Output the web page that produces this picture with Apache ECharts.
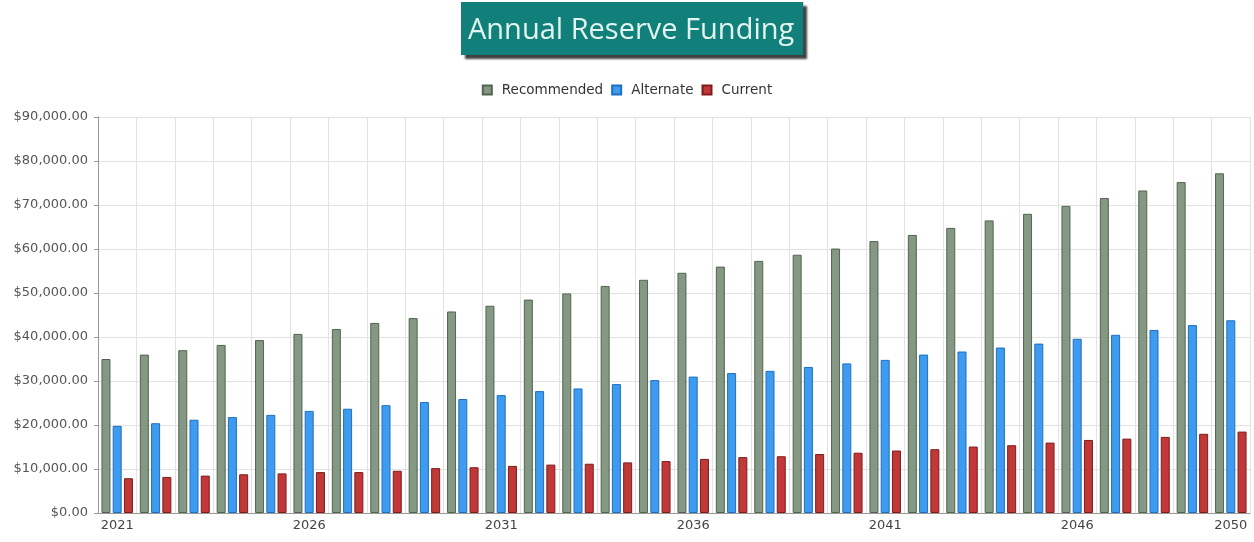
<!DOCTYPE html>
<html>
<head>
<meta charset="utf-8">
<script src="https://cdn.jsdelivr.net/npm/echarts@6/dist/echarts.min.js"></script>
<style>
html, body { margin: 0; padding: 0; background: #fff; }
#chart { width: 1254px; height: 542px; }
</style>
</head>
<body>
<div id="chart"></div>
<script>
var years = ['2021', '2022', '2023', '2024', '2025', '2026', '2027', '2028', '2029', '2030',
    '2031', '2032', '2033', '2034', '2035', '2036', '2037', '2038', '2039', '2040',
    '2041', '2042', '2043', '2044', '2045', '2046', '2047', '2048', '2049', '2050'];
var recommended = [35000, 36000, 37000, 38200, 39300, 40700, 41800, 43200, 44300, 45800,
    47100, 48500, 49900, 51600, 53000, 54600, 56000, 57300, 58700, 60100,
    61800, 63200, 64800, 66500, 68000, 69800, 71600, 73300, 75200, 77200];
var alternate = [19800, 20400, 21200, 21800, 22300, 23200, 23700, 24500, 25200, 25900,
    26800, 27700, 28300, 29300, 30200, 31000, 31800, 32300, 33200, 34000,
    34800, 36000, 36700, 37600, 38500, 39600, 40500, 41600, 42700, 43800];
var current = [7900, 8200, 8500, 8800, 9000, 9300, 9300, 9600, 10200, 10400,
    10700, 11000, 11200, 11500, 11800, 12300, 12700, 12900, 13400, 13700,
    14200, 14500, 15100, 15400, 16000, 16600, 16900, 17300, 18000, 18500];

function money(v) {
    var parts = v.toFixed(2).split('.');
    var reg = /\d{1,3}(?=(\d{3})+$)/g;
    return '$' + parts[0].replace(reg, '$&,') + '.' + parts[1];
}

function barSeries(name, data, fill, border) {
    return {
        name: name,
        type: 'bar',
        data: data,
        barWidth: 9,
        barGap: '25%',
        barCategoryGap: '22%',
        itemStyle: {
            color: fill,
            borderColor: border,
            borderWidth: 1
        }
    };
}

var myChart = echarts.init(document.getElementById('chart'));
myChart.setOption({
    animation: false,
    title: {
        text: 'Annual Reserve Funding',
        left: 461,
        top: 2,
        padding: [14, 9, 10, 7],
        backgroundColor: '#11807a',
        shadowColor: 'rgba(0,0,0,0.75)',
        shadowBlur: 2,
        shadowOffsetX: 4,
        shadowOffsetY: 4,
        textStyle: {
            color: '#e2f4f0',
            fontFamily: 'Open Sans',
            fontWeight: 'normal',
            fontSize: 29
        }
    },
    legend: {
        top: 78,
        left: 'center',
        icon: 'rect',
        itemWidth: 9,
        itemHeight: 9,
        itemGap: 8,
        textStyle: {
            color: '#333',
            fontFamily: 'DejaVu Sans',
            fontSize: 13.5,
            padding: [0, 0, 0, 5]
        }
    },
    grid: {
        left: 98,
        right: 4,
        top: 117,
        bottom: 29
    },
    xAxis: {
        type: 'category',
        data: years,
        axisLine: { lineStyle: { color: '#999' } },
        axisTick: { interval: 0, length: 5, lineStyle: { color: '#999' } },
        splitLine: { show: true, interval: 0, lineStyle: { color: '#e2e2e2' } },
        axisLabel: {
            interval: function (i) { return i % 5 === 0 || i === years.length - 1; },
            color: '#444',
            fontFamily: 'DejaVu Sans',
            fontSize: 13,
            margin: 6
        }
    },
    yAxis: {
        type: 'value',
        min: 0,
        max: 90000,
        interval: 10000,
        axisLine: { show: true, lineStyle: { color: '#999' } },
        axisTick: { show: true, length: 4, lineStyle: { color: '#999' } },
        splitLine: { lineStyle: { color: '#e2e2e2' } },
        axisLabel: {
            formatter: money,
            color: '#555',
            fontFamily: 'DejaVu Sans',
            fontSize: 13,
            margin: 10
        }
    },
    series: [
        barSeries('Recommended', recommended, '#849884', '#52654f'),
        barSeries('Alternate', alternate, '#3d9cf0', '#1f6fc0'),
        barSeries('Current', current, '#c03838', '#7e1c1c')
    ]
});
</script>
</body>
</html>
